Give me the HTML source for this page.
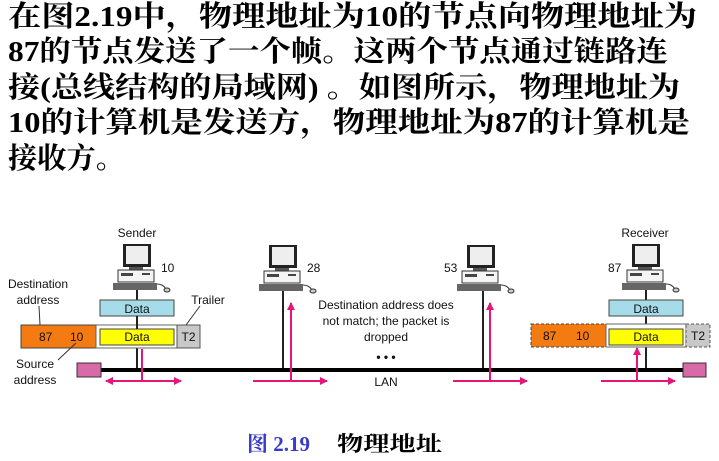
<!DOCTYPE html>
<html><head><meta charset="utf-8"><style>
html,body{margin:0;padding:0;background:#fff;}
svg{display:block;}
.t{font-family:"Liberation Serif","Noto Serif CJK SC","Noto Sans CJK SC",serif;font-weight:bold;font-size:29px;fill:#000;}
.s{font-family:"Liberation Sans","DejaVu Sans",sans-serif;font-size:12px;fill:#111;}
</style></head><body>
<svg width="719" height="461" viewBox="0 0 719 461" xmlns="http://www.w3.org/2000/svg">
<defs>
<marker id="ah" markerWidth="8" markerHeight="8" refX="7" refY="4" orient="auto" markerUnits="userSpaceOnUse"><path d="M0,0 L8,4 L0,8 z" fill="#e6157a"/></marker>
<marker id="ahs" markerWidth="8" markerHeight="8" refX="1" refY="4" orient="auto" markerUnits="userSpaceOnUse"><path d="M8,0 L0,4 L8,8 z" fill="#e6157a"/></marker>
<g id="pc">
<rect x="-14" y="0" width="28" height="23" fill="#222"/>
<rect x="-11" y="2" width="22" height="18" fill="#eee"/>
<rect x="-8" y="23" width="14" height="3" fill="#555"/>
<rect x="-19" y="26" width="36" height="12" fill="#f4f4f4" stroke="#333"/>
<rect x="-16" y="29" width="12" height="3" fill="#444"/>
<rect x="5" y="29" width="8" height="2" fill="#444"/>
<rect x="-24" y="39" width="44" height="7" fill="#666"/>
<path d="M20,40 q6,0 9,5" stroke="#333" fill="none"/>
<ellipse cx="30" cy="46" rx="3" ry="2" fill="#ccc" stroke="#333"/>
</g>
</defs>
<text class="t" x="8" y="26" textLength="689" lengthAdjust="spacingAndGlyphs">在图2.19中，物理地址为10的节点向物理地址为</text>
<text class="t" x="8" y="61" textLength="660" lengthAdjust="spacingAndGlyphs">87的节点发送了一个帧。这两个节点通过链路连</text>
<text class="t" x="8" y="97" textLength="672" lengthAdjust="spacingAndGlyphs">接(总线结构的局域网) 。如图所示，物理地址为</text>
<text class="t" x="8" y="132" textLength="682" lengthAdjust="spacingAndGlyphs">10的计算机是发送方，物理地址为87的计算机是</text>
<text class="t" x="8" y="168" textLength="117" lengthAdjust="spacingAndGlyphs">接收方。</text>

<!-- vertical node lines -->
<g stroke="#222" stroke-width="2">
<line x1="137" y1="290" x2="137" y2="370"/>
<line x1="283" y1="290" x2="283" y2="370"/>
<line x1="483" y1="290" x2="483" y2="370"/>
<line x1="646" y1="290" x2="646" y2="370"/>
</g>
<use href="#pc" x="137" y="244"/>
<use href="#pc" x="283" y="245"/>
<use href="#pc" x="481" y="245"/>
<use href="#pc" x="646" y="244"/>
<text class="s" x="137" y="237" text-anchor="middle">Sender</text>
<text class="s" x="161" y="272">10</text>
<text class="s" x="307" y="272">28</text>
<text class="s" x="444" y="272">53</text>
<text class="s" x="608" y="272">87</text>
<text class="s" x="645" y="237" text-anchor="middle">Receiver</text>

<!-- bus -->
<line x1="101" y1="370" x2="683" y2="370" stroke="#000" stroke-width="4"/>
<rect x="77" y="363" width="24" height="14" fill="#d86aa8" stroke="#333"/>
<rect x="683" y="363" width="23" height="14" fill="#d86aa8" stroke="#333"/>

<!-- sender frame -->
<rect x="100" y="300" width="74" height="16" fill="#a6dcea" stroke="#444"/>
<text class="s" x="137" y="313" text-anchor="middle">Data</text>
<rect x="21" y="325" width="75" height="23" fill="#f47a12" stroke="#444"/>
<text class="s" x="39" y="341">87</text><text class="s" x="70" y="341">10</text>
<rect x="96" y="325" width="81" height="23" fill="#fff" stroke="#666"/>
<rect x="100" y="329" width="74" height="16" fill="#ffff00" stroke="#444"/>
<text class="s" x="137" y="341" text-anchor="middle">Data</text>
<line x1="137" y1="316" x2="137" y2="329" stroke="#222" stroke-width="2"/>
<rect x="177" y="325" width="23" height="23" fill="#c8c8c8" stroke="#555"/>
<text class="s" x="188.5" y="341" text-anchor="middle">T2</text>

<!-- receiver frame -->
<rect x="609" y="300" width="74" height="16" fill="#a6dcea" stroke="#444"/>
<text class="s" x="646" y="313" text-anchor="middle">Data</text>
<rect x="531" y="324" width="75" height="23" fill="#f47a12" stroke="#444" stroke-dasharray="3,2"/>
<text class="s" x="543" y="340">87</text><text class="s" x="576" y="340">10</text>
<rect x="606" y="324" width="80" height="23" fill="#fff" stroke="#666"/>
<rect x="609" y="329" width="74" height="16" fill="#ffff00" stroke="#444"/>
<text class="s" x="646" y="341" text-anchor="middle">Data</text>
<rect x="686" y="324" width="24" height="23" fill="#c8c8c8" stroke="#555" stroke-dasharray="3,2"/>
<text class="s" x="698" y="340" text-anchor="middle">T2</text>

<!-- pink arrows -->
<g stroke="#e6157a" stroke-width="2" fill="none">
<line x1="142" y1="349" x2="142" y2="381"/>
<line x1="106" y1="381" x2="181" y2="381" marker-end="url(#ah)" marker-start="url(#ahs)"/>
<line x1="291" y1="381" x2="291" y2="303" marker-end="url(#ah)"/>
<line x1="253" y1="381" x2="327" y2="381" marker-end="url(#ah)"/>
<line x1="490" y1="381" x2="490" y2="303" marker-end="url(#ah)"/>
<line x1="453" y1="381" x2="527" y2="381" marker-end="url(#ah)"/>
<line x1="637" y1="381" x2="637" y2="348" marker-end="url(#ah)"/>
<line x1="601" y1="381" x2="675" y2="381" marker-end="url(#ah)"/>
</g>

<!-- labels -->
<text class="s" x="38" y="288" text-anchor="middle">Destination</text>
<text class="s" x="38" y="304" text-anchor="middle">address</text>
<line x1="39" y1="306" x2="40" y2="325" stroke="#333"/>
<text class="s" x="208" y="304" text-anchor="middle">Trailer</text>
<line x1="200" y1="306" x2="186" y2="325" stroke="#333"/>
<text class="s" x="35" y="368" text-anchor="middle">Source</text>
<text class="s" x="35" y="384" text-anchor="middle">address</text>
<line x1="58" y1="360" x2="76" y2="343" stroke="#333"/>
<text class="s" x="386" y="309" text-anchor="middle">Destination address does</text>
<text class="s" x="386" y="325" text-anchor="middle">not match; the packet is</text>
<text class="s" x="386" y="341" text-anchor="middle">dropped</text>
<text class="s" x="386" y="361" text-anchor="middle" style="font-weight:bold">• • •</text>
<text class="s" x="386" y="386" text-anchor="middle">LAN</text>

<text x="247" y="451" style="font-family:'Liberation Serif','Noto Serif CJK SC',serif;font-weight:bold;font-size:21px;fill:#3a3acc">图 2.19</text>
<text x="337" y="451" style="font-family:'Liberation Serif','Noto Serif CJK SC',serif;font-weight:bold;font-size:21px;fill:#000" textLength="105" lengthAdjust="spacingAndGlyphs">物理地址</text>
</svg>
</body></html>
